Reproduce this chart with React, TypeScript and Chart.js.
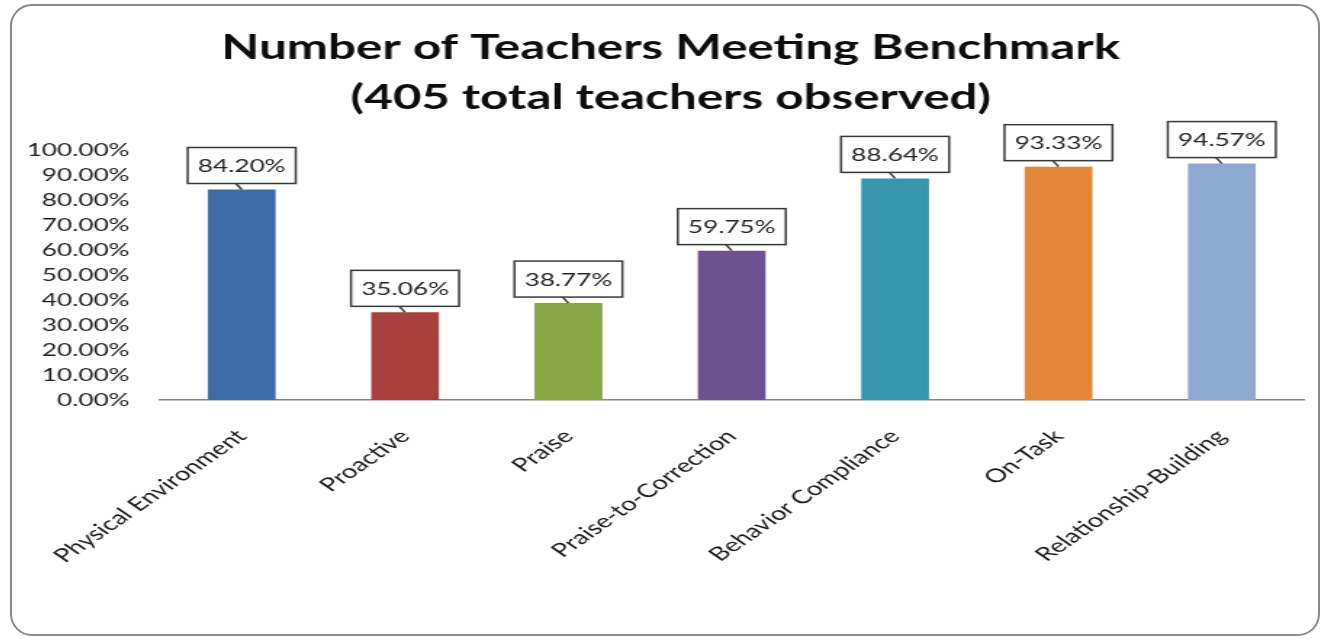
import React, { useEffect, useRef } from "react";
import { Chart, registerables } from "chart.js";

Chart.register(...registerables);

const categories = [
  "Physical Environment",
  "Proactive",
  "Praise",
  "Praise-to-Correction",
  "Behavior Compliance",
  "On-Task",
  "Relationship-Building",
];
const values = [84.2, 35.06, 38.77, 59.75, 88.64, 93.33, 94.57];
const barColors = ["#3E6CA8", "#A8403E", "#87A443", "#6D5290", "#3796AE", "#E38736", "#8FA8D1"];
const titleLines = ["Number of Teachers Meeting Benchmark", "(405 total teachers observed)"];

const FONT = 'Lato, "Open Sans", sans-serif';

const titleDraw = {
  id: "titleDraw",
  afterDraw(chart: any) {
    const ctx = chart.ctx;
    ctx.save();
    ctx.font = `bold 34px ${FONT}`;
    ctx.fillStyle = "#0d0d0d";
    ctx.textAlign = "center";
    ctx.textBaseline = "middle";
    const cx = chart.width / 2 + 4;
    titleLines.forEach((line, i) => {
      ctx.fillText(line, cx, 42 + i * 50);
    });
    ctx.restore();
  },
};

const labelBoxes = {
  id: "labelBoxes",
  afterDatasetsDraw(chart: any) {
    const ctx = chart.ctx;
    const meta = chart.getDatasetMeta(0);
    ctx.save();
    ctx.font = `18px ${FONT}`;
    meta.data.forEach((bar: any, i: number) => {
      const text = values[i].toFixed(2) + "%";
      const tw = ctx.measureText(text).width;
      const w = tw + 14;
      const h = 36;
      const yb = bar.y - 6;
      const yt = yb - h;
      const x = bar.x - w / 2;
      ctx.fillStyle = "#ffffff";
      ctx.fillRect(x, yt, w, h);
      ctx.strokeStyle = "#3a3a3a";
      ctx.lineWidth = 1.5;
      ctx.strokeRect(x, yt, w, h);
      ctx.beginPath();
      ctx.moveTo(bar.x - 4, yb);
      ctx.lineTo(bar.x, bar.y);
      ctx.stroke();
      ctx.fillStyle = "#262626";
      ctx.textAlign = "center";
      ctx.textBaseline = "middle";
      ctx.fillText(text, bar.x, yt + h / 2 + 1);
    });
    ctx.restore();
  },
};

export default function App() {
  const ref = useRef<HTMLCanvasElement | null>(null);
  useEffect(() => {
    if (!ref.current) return;
    const chart = new Chart(ref.current, {
      type: "bar",
      data: {
        labels: categories,
        datasets: [
          {
            data: values,
            backgroundColor: barColors,
            borderWidth: 0,
            barPercentage: 0.415,
            categoryPercentage: 1,
          },
        ],
      },
      options: {
        responsive: false,
        animation: false,
        devicePixelRatio: 1,
        layout: { padding: { left: 0, right: 10, top: 144, bottom: 0 } },
        plugins: {
          legend: { display: false },
          tooltip: { enabled: false },
          title: { display: false },
        },
        scales: {
          x: {
            grid: { display: false, drawTicks: false },
            border: { display: true, color: "#868686", width: 1.6 },
            ticks: {
              minRotation: 45,
              maxRotation: 45,
              padding: 25,
              color: "#1a1a1a",
              font: { family: FONT, size: 19 },
            },
            afterFit(scale: any) {
              scale.height = 234;
            },
          },
          y: {
            min: 0,
            max: 100,
            grid: { display: false, drawTicks: false },
            border: { display: false },
            ticks: {
              stepSize: 10,
              padding: 21,
              color: "#1f1f1f",
              font: { family: FONT, size: 18 },
              callback: (v: any) => Number(v).toFixed(2) + "%",
            },
            afterFit(scale: any) {
              scale.width = 101;
            },
          },
        },
      },
      plugins: [labelBoxes, titleDraw],
    });
    return () => chart.destroy();
  }, []);

  return (
    <div
      style={{
        position: "absolute",
        left: 10,
        top: 4,
        width: 1310,
        height: 632,
        border: "2px solid #8a8a8a",
        borderRadius: 22,
        boxSizing: "border-box",
        background: "#ffffff",
        overflow: "hidden",
      }}
    >
      <canvas ref={ref} width={900} height={628} style={{ width: "1306px", height: "628px", display: "block" }} />
    </div>
  );
}
